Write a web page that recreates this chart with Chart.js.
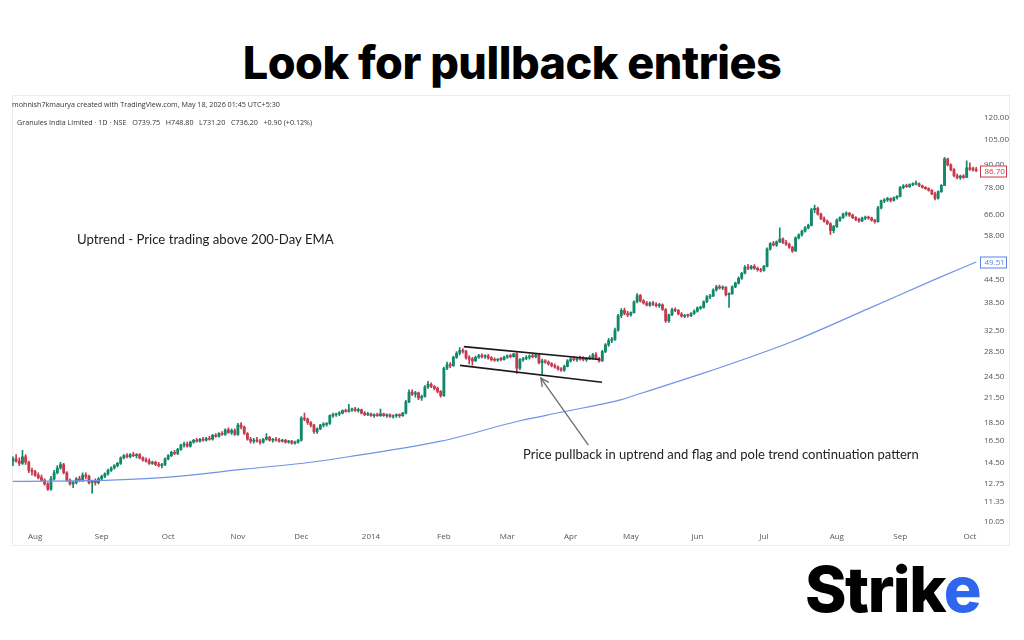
<!DOCTYPE html>
<html><head><meta charset="utf-8">
<script src="https://cdn.jsdelivr.net/npm/chart.js@4.4.1/dist/chart.umd.min.js"></script>
<style>
html,body{margin:0;padding:0;background:#fff;width:1024px;height:640px;overflow:hidden;position:relative;font-family:'Open Sans',sans-serif}
#title{position:absolute;left:0;width:1024px;top:37px;text-align:center;font:800 45px Inter,sans-serif;color:#000;letter-spacing:-0.5px;line-height:52px}
#panel{position:absolute;left:12px;top:95px;width:998px;height:451px;border:1px solid #ececec;box-sizing:border-box}
#wrap{position:absolute;left:10px;top:95px;width:1000px;height:452px}
.hdr{position:absolute;font:7.2px 'Open Sans',sans-serif;color:#333;white-space:pre}
.note{position:absolute;font:13.2px Lato,sans-serif;color:#222;white-space:nowrap}
#logo{position:absolute;left:805px;top:554px;font:800 63px Inter,sans-serif;letter-spacing:-1.5px;color:#000;line-height:70px}
#logo .b{color:#2f66ee}
</style></head>
<body>
<div id="title">Look for pullback entries</div>
<div id="panel"></div>
<div id="wrap"><canvas id="c" width="1000" height="452"></canvas></div>
<div class="hdr" style="left:12px;top:99px">mohnish7kmaurya created with TradingView.com, May 18, 2026 01:45 UTC+5:30</div>
<div class="hdr" style="left:17px;top:117px">Granules India Limited · 1D · NSE   O739.75   H748.80   L731.20   C736.20   +0.90 (+0.12%)</div>
<div class="note" style="left:77px;top:231px">Uptrend - Price trading above 200-Day EMA</div>
<div class="note" style="left:523px;top:446px;font-size:13px">Price pullback in uptrend and flag and pole trend continuation pattern</div>
<div id="logo">Stri<span>k</span><span class="b">e</span></div>
<script>
// ---- DATA: daily candles [open, high, low, close] per month ----
const jul13 = [[14.6,15.0,14.2,14.8],[14.8,15.2,14.5,14.6],[14.6,14.9,14.2,14.4],[14.4,15.6,14.3,15.0],[15.0,15.2,14.3,14.5],[14.5,14.6,13.6,13.8],[13.8,14.0,13.4,13.7]];
const aug13 = [[13.7,13.8,13.3,13.4],[13.4,13.6,13.1,13.2],[13.2,13.4,12.9,13.0],[13.0,13.1,12.6,12.7],[12.7,12.8,12.2,12.3],[12.3,13.3,12.2,13.1],[13.1,13.8,13.0,13.6],[13.6,14.2,13.5,14.0],[14.0,14.5,13.9,14.3],[14.3,14.4,13.5,13.6],[13.6,13.7,12.9,13.0],[13.0,13.1,12.6,12.7],[12.7,12.9,12.4,12.8],[12.8,13.2,12.7,13.1],[13.1,13.3,12.9,13.0],[13.0,13.6,12.9,13.4],[13.4,13.6,13.1,13.3],[13.3,13.4,12.7,12.8],[12.8,13.0,12.0,12.9],[12.9,13.1,12.6,12.8],[12.8,13.2,12.7,13.1]];
const sep13 = [[13.1,13.4,13.0,13.3],[13.3,13.6,13.2,13.5],[13.5,13.9,13.4,13.8],[13.8,14.1,13.7,14.0],[14.0,14.3,13.9,14.2],[14.2,14.5,14.1,14.4],[14.4,15.0,14.3,14.9],[14.9,15.2,14.8,15.1],[15.1,15.3,14.9,15.0],[15.0,15.3,14.9,15.2],[15.2,15.4,15.0,15.1],[15.1,15.3,14.9,15.2],[15.2,15.3,14.8,14.9],[14.9,15.0,14.6,14.7],[14.7,14.9,14.5,14.6],[14.6,14.8,14.3,14.4],[14.4,14.6,14.3,14.5],[14.5,14.6,14.2,14.3],[14.3,14.5,14.1,14.2],[14.2,14.4,14.0,14.3],[14.3,14.9,14.2,14.8]];
const oct13 = [[14.8,15.2,14.7,15.1],[15.1,15.5,15.0,15.4],[15.4,15.6,15.2,15.3],[15.3,15.8,15.2,15.7],[15.7,16.2,15.6,16.1],[16.1,16.4,15.9,16.2],[16.2,16.4,15.9,16.0],[16.0,16.5,15.9,16.4],[16.4,16.7,16.3,16.6],[16.6,16.8,16.4,16.5],[16.5,16.8,16.4,16.7],[16.7,16.9,16.5,16.6],[16.6,16.9,16.5,16.8],[16.8,17.0,16.6,16.7],[16.7,17.2,16.6,17.1],[17.1,17.3,16.9,17.0],[17.0,17.4,16.9,17.3],[17.3,17.5,17.1,17.2],[17.2,17.8,17.1,17.7],[17.7,17.9,17.3,17.4],[17.4,17.8,17.2,17.6],[17.6,17.8,17.1,17.2]];
const nov13 = [[17.2,18.4,17.1,18.2],[18.2,18.5,17.8,18.0],[18.0,18.1,17.2,17.3],[17.3,17.4,16.6,16.7],[16.7,16.9,16.3,16.5],[16.5,16.8,16.3,16.6],[16.6,16.9,16.4,16.5],[16.5,16.7,16.2,16.4],[16.4,16.8,16.3,16.7],[16.7,17.3,16.6,16.9],[16.9,17.0,16.5,16.6],[16.6,16.8,16.4,16.7],[16.7,16.9,16.5,16.6],[16.6,16.8,16.4,16.5],[16.5,16.7,16.4,16.6],[16.6,16.7,16.3,16.4],[16.4,16.6,16.3,16.5],[16.5,16.6,16.2,16.3],[16.3,16.5,16.2,16.4],[16.4,16.7,16.3,16.6]];
const dec13 = [[16.6,19.2,16.5,19.0],[19.0,19.6,18.7,18.9],[18.9,19.0,18.3,18.5],[18.5,18.6,18.0,18.2],[18.2,18.3,17.3,17.5],[17.5,17.9,17.3,17.8],[17.8,18.3,17.7,18.2],[18.2,18.5,18.0,18.3],[18.3,18.5,18.1,18.4],[18.4,19.4,18.3,19.3],[19.3,19.6,19.1,19.4],[19.4,19.6,19.2,19.5],[19.5,19.8,19.3,19.6],[19.6,20.0,19.5,19.9],[19.9,20.1,19.7,19.8],[19.8,20.7,19.7,20.0],[20.0,20.2,19.8,20.1],[20.1,20.3,19.8,19.9],[19.9,20.2,19.7,20.0],[20.0,20.1,19.5,19.6],[19.6,19.8,19.3,19.4],[19.4,19.7,19.3,19.5]];
const jan14 = [[19.5,19.6,19.2,19.3],[19.3,19.5,19.1,19.4],[19.4,19.6,19.2,19.3],[19.3,20.1,19.2,19.5],[19.5,19.6,19.2,19.3],[19.3,19.5,19.1,19.4],[19.4,19.5,19.1,19.2],[19.2,19.4,19.0,19.3],[19.3,19.5,19.1,19.4],[19.4,19.5,19.1,19.3],[19.3,19.7,19.2,19.6],[19.6,21.2,19.5,21.0],[21.0,22.6,20.9,22.3],[22.3,22.6,21.8,22.0],[22.0,22.4,21.6,22.2],[22.2,22.3,21.3,21.5],[21.5,21.9,21.2,21.7],[21.7,23.2,21.6,23.0],[23.0,23.8,22.8,23.4],[23.4,23.6,22.9,23.1],[23.1,23.2,22.6,22.8],[22.8,23.0,22.2,22.4],[22.4,22.5,21.6,21.8]];
const feb14 = [[21.8,26.0,21.7,25.8],[25.8,26.8,25.6,26.4],[26.4,26.7,25.9,26.2],[26.2,27.8,26.1,27.6],[27.6,28.6,27.4,28.3],[28.3,29.3,28.0,28.8],[28.8,29.1,28.3,28.6],[28.6,28.8,27.3,27.5],[27.5,27.9,26.5,27.3],[27.3,27.6,26.3,27.0],[27.0,27.8,26.9,27.6],[27.6,28.1,27.4,27.9],[27.9,28.2,27.5,27.7],[27.7,28.0,27.4,27.8],[27.8,28.1,27.3,27.5],[27.5,27.7,27.0,27.2],[27.2,27.5,26.9,27.1],[27.1,27.4,26.9,27.3],[27.3,27.6,27.0,27.2],[27.2,27.8,27.1,27.6]];
const mar14 = [[27.6,28.0,27.4,27.8],[27.8,28.1,27.5,27.7],[27.7,28.3,27.6,28.2],[28.2,28.4,25.0,25.8],[25.8,27.4,25.6,27.2],[27.2,27.6,26.9,27.4],[27.4,27.9,27.2,27.6],[27.6,28.0,27.3,27.8],[27.8,28.1,27.5,27.7],[27.7,28.2,27.5,28.0],[28.0,28.2,26.5,26.7],[26.7,27.3,24.9,27.0],[27.0,27.2,26.6,26.8],[26.8,27.0,26.3,26.5],[26.5,26.7,26.0,26.2],[26.2,26.5,25.8,26.0],[26.0,26.2,25.5,25.7],[25.7,25.9,25.3,25.5],[25.5,26.3,25.3,26.1],[26.1,27.2,26.0,27.0]];
const apr14 = [[27.0,27.6,26.8,27.3],[27.3,27.7,27.0,27.2],[27.2,27.6,26.9,27.4],[27.4,27.8,27.1,27.3],[27.3,27.7,27.0,27.2],[27.2,27.6,26.9,27.4],[27.4,27.9,27.2,27.5],[27.5,28.3,27.3,28.0],[28.0,28.4,27.2,27.4],[27.4,27.6,26.8,27.0],[27.0,28.8,26.9,28.6],[28.6,30.0,28.4,29.8],[29.8,31.0,29.5,30.6],[30.6,31.2,30.2,30.8],[30.8,33.0,30.6,32.6],[32.6,35.9,32.4,35.6],[35.6,37.2,35.2,36.8],[36.8,37.3,35.8,36.1],[36.1,36.6,35.4,35.8]];
const may14 = [[35.8,36.5,35.5,36.3],[36.3,39.0,36.2,38.8],[38.8,40.8,38.5,40.3],[40.3,40.6,38.7,39.0],[39.0,39.3,38.2,38.5],[38.5,38.9,37.8,38.0],[38.0,38.8,37.7,38.5],[38.5,38.9,37.9,38.2],[38.2,38.6,37.6,37.9],[37.9,38.4,37.5,38.1],[38.1,38.3,36.8,37.0],[37.0,37.2,34.2,34.5],[34.5,36.0,34.2,35.8],[35.8,37.3,35.6,37.0],[37.0,37.4,36.5,36.8],[36.8,37.0,35.8,36.0],[36.0,36.3,35.3,35.5],[35.5,35.9,35.2,35.7],[35.7,36.0,35.3,35.6],[35.6,36.3,35.4,36.1],[36.1,36.9,35.9,36.6]];
const jun14 = [[36.6,37.6,36.4,37.3],[37.3,37.8,37.0,37.5],[37.5,39.0,37.3,38.8],[38.8,40.3,38.6,40.0],[40.0,40.6,39.5,40.2],[40.2,42.0,40.0,41.7],[41.7,42.9,41.4,42.5],[42.5,43.0,41.9,42.2],[42.2,42.8,41.8,42.4],[42.4,42.6,40.2,40.5],[40.5,41.0,37.5,40.8],[40.8,42.8,40.6,42.5],[42.5,43.8,42.3,43.5],[43.5,45.2,43.2,44.8],[44.8,46.5,44.5,46.2],[46.2,48.4,46.0,48.0],[48.0,48.8,47.2,47.6],[47.6,48.5,47.3,48.2],[48.2,48.7,47.3,47.6],[47.6,48.0,46.8,47.2],[47.2,47.6,46.6,47.0]];
const jul14 = [[47.0,48.5,46.8,48.2],[48.2,54.0,48.0,53.6],[53.6,55.8,53.2,55.4],[55.4,56.2,54.6,55.0],[55.0,56.4,54.5,56.0],[56.0,61.0,55.7,57.0],[57.0,57.4,55.4,55.8],[55.8,56.5,54.8,55.2],[55.2,55.6,53.8,54.2],[54.2,54.5,52.5,53.0],[53.0,57.8,52.8,57.4],[57.4,58.8,57.0,58.5],[58.5,60.2,58.0,59.8],[59.8,61.5,59.4,61.0],[61.0,62.5,60.6,62.0],[62.0,68.8,61.8,68.2],[68.2,70.2,67.0,68.8],[68.8,69.3,66.0,66.4],[66.4,66.8,64.2,64.6],[64.6,65.3,63.2,63.6],[63.6,64.0,62.2,62.6],[62.6,63.0,58.5,60.0],[60.0,62.0,59.2,61.5]];
const aug14 = [[61.5,64.5,61.2,64.0],[64.0,65.3,63.5,65.0],[65.0,66.8,64.7,66.4],[66.4,67.3,65.6,66.8],[66.8,67.0,65.5,66.0],[66.0,66.4,64.6,65.0],[65.0,65.4,63.8,64.3],[64.3,64.8,63.2,63.7],[63.7,65.2,63.4,64.8],[64.8,65.6,64.2,65.2],[65.2,65.6,64.4,64.8],[64.8,65.2,63.6,64.0],[64.0,64.3,62.8,63.4],[63.4,69.6,63.2,69.0],[69.0,72.4,68.6,72.0],[72.0,73.0,71.2,72.4],[72.4,73.6,71.8,73.0],[73.0,73.4,71.6,72.2],[72.2,73.8,71.9,73.4],[73.4,74.4,72.8,74.0]];
const sep14 = [[74.0,78.6,73.8,78.2],[78.2,79.6,77.6,79.0],[79.0,79.8,78.2,78.6],[78.6,80.0,78.2,79.6],[79.6,80.4,79.0,79.8],[79.8,81.4,79.4,80.0],[80.0,80.4,78.6,79.0],[79.0,79.4,77.8,78.2],[78.2,78.6,77.2,77.6],[77.6,78.0,76.4,76.8],[76.8,77.2,74.8,75.2],[75.2,76.0,72.4,73.2],[73.2,76.6,72.8,76.2],[76.2,79.6,75.8,79.2],[79.2,94.0,79.0,93.0],[93.0,93.6,89.2,89.8],[89.8,90.4,86.6,87.2],[87.2,87.8,83.4,84.0],[84.0,85.0,82.4,83.0],[83.0,84.4,82.2,83.8],[83.8,84.6,82.6,83.2],[83.2,92.0,83.0,88.2]];
const oct14 = [[88.2,91.0,86.8,87.4],[87.4,88.6,86.4,87.2],[87.2,88.4,86.2,86.7]];

const months = [jul13, aug13, sep13, oct13, nov13, dec13, jan14, feb14, mar14, apr14, may14, jun14, jul14, aug14, sep14, oct14];
const monthNames = ['', 'Aug', 'Sep', 'Oct', 'Nov', 'Dec', '2014', 'Feb', 'Mar', 'Apr', 'May', 'Jun', 'Jul', 'Aug', 'Sep', 'Oct'];

// 200-day EMA read at a few bar positions
const emaBar = [0, 31, 52, 73, 94, 107, 135, 160, 173, 192, 198, 217, 233, 246, 270, 291, 304];
const emaVal = [12.9, 13.0, 13.3, 13.9, 14.5, 15.05, 16.5, 18.7, 19.7, 21.3, 22.1, 24.9, 27.7, 30.4, 37.2, 44.5, 49.51];

// price-axis tick labels
const priceTicks = [10.05, 11.35, 12.75, 14.50, 16.50, 18.50, 21.50, 24.50, 28.50, 32.50, 38.50, 44.50, 58.00, 66.00, 78.00, 90.00, 105.00, 120.00];

// flag pattern lines and arrow: [bar, price]
const flagUpper = [[142.3, 29.47], [185.2, 27.23]];
const flagLower = [[141.1, 26.26], [185.9, 23.68]];
const arrowFrom = [181.6, 16.1];
const arrowTo = [166.6, 24.3];

// ---- build ----
const candles = [].concat(...months);
const monthStart = [];
let acc = 0;
months.forEach((m, i) => { if (i > 0) monthStart.push(acc); acc += m.length; });
const tickName = {};
monthStart.forEach((s, i) => { tickName[s] = monthNames[i + 1]; });

const UP = '#12876a', DOWN = '#c63a4d';
const colorOf = c => c[3] >= c[0] ? UP : DOWN;
const bodies = candles.map((c, i) => ({x: i, y: [Math.min(c[0], c[3]), Math.max(c[0], c[3])]}));
const wicks = candles.map((c, i) => ({x: i, y: [c[2], c[1]]}));
const colors = candles.map(colorOf);
const lastClose = candles[candles.length - 1][3];
const lastColor = colorOf(candles[candles.length - 1]);
const lastEma = emaVal[emaVal.length - 1];

const overlay = {
  id: 'overlay',
  afterDatasetsDraw(chart) {
    const {ctx, scales: {x, y}} = chart;
    const x1 = x.getPixelForValue(arrowFrom[0]), y1 = y.getPixelForValue(arrowFrom[1]);
    const x2 = x.getPixelForValue(arrowTo[0]), y2 = y.getPixelForValue(arrowTo[1]);
    ctx.save();
    ctx.strokeStyle = '#6b6b6b'; ctx.lineWidth = 1.3;
    ctx.beginPath(); ctx.moveTo(x1, y1); ctx.lineTo(x2, y2); ctx.stroke();
    const a = Math.atan2(y2 - y1, x2 - x1);
    ctx.beginPath();
    ctx.moveTo(x2 - 9 * Math.cos(a - 0.45), y2 - 9 * Math.sin(a - 0.45));
    ctx.lineTo(x2, y2);
    ctx.lineTo(x2 - 9 * Math.cos(a + 0.45), y2 - 9 * Math.sin(a + 0.45));
    ctx.stroke();
    ctx.restore();
  },
  afterDraw(chart) {
    const {ctx, scales: {y}, chartArea} = chart;
    const box = (v, col) => {
      const py = Math.round(y.getPixelForValue(v));
      const bx = chartArea.right + 0.5, bw = 26, bh = 11;
      ctx.save();
      ctx.fillStyle = '#fff'; ctx.fillRect(bx, py - bh / 2, bw, bh);
      ctx.strokeStyle = col; ctx.lineWidth = 1; ctx.strokeRect(bx, py - bh / 2 + 0.5, bw, bh);
      ctx.fillStyle = col; ctx.font = "8px 'Open Sans'"; ctx.textBaseline = 'middle'; ctx.textAlign = 'left';
      ctx.fillText(v.toFixed(2), bx + 4, py + 1);
      ctx.restore();
    };
    box(lastClose, lastColor);
    box(lastEma, '#5b84e0');
  }
};

new Chart(document.getElementById('c'), {
  type: 'bar',
  data: {
    datasets: [
      {type: 'line', data: flagUpper.map(p => ({x: p[0], y: p[1]})), borderColor: '#1a1a1a', borderWidth: 1.6, pointRadius: 0},
      {type: 'line', data: flagLower.map(p => ({x: p[0], y: p[1]})), borderColor: '#1a1a1a', borderWidth: 1.6, pointRadius: 0},
      {type: 'line', data: emaBar.map((b, i) => ({x: b, y: emaVal[i]})), borderColor: '#6f93e6', borderWidth: 1.2, pointRadius: 0, cubicInterpolationMode: 'monotone'},
      {data: bodies, backgroundColor: colors, barThickness: 2.2, grouped: false, minBarLength: 1},
      {data: wicks, backgroundColor: colors, barThickness: 1, grouped: false}
    ]
  },
  options: {
    responsive: false, animation: false,
    layout: {padding: {left: 2, top: 5, right: 0, bottom: 0}},
    plugins: {legend: {display: false}, tooltip: {enabled: false}},
    scales: {
      x: {
        type: 'linear', min: -0.3, max: 305.2, offset: false,
        grid: {display: false, drawTicks: false}, border: {display: false},
        afterBuildTicks: s => { s.ticks = monthStart.map(v => ({value: v})); },
        afterFit: s => { s.height = 19; },
        ticks: {autoSkip: false, maxRotation: 0, padding: 4, color: '#555', font: {family: 'Open Sans', size: 8},
          callback: v => tickName[v] || ''}
      },
      y: {
        type: 'logarithmic', position: 'right', min: 9.69, max: 130.6,
        grid: {display: false, drawTicks: false}, border: {display: false},
        afterBuildTicks: s => { s.ticks = priceTicks.map(v => ({value: v})); },
        afterFit: s => { s.width = 30; },
        ticks: {padding: 4, color: '#555', font: {family: 'Open Sans', size: 8},
          callback: v => Number(v).toFixed(2)}
      }
    }
  },
  plugins: [overlay]
});
</script>
</body></html>
